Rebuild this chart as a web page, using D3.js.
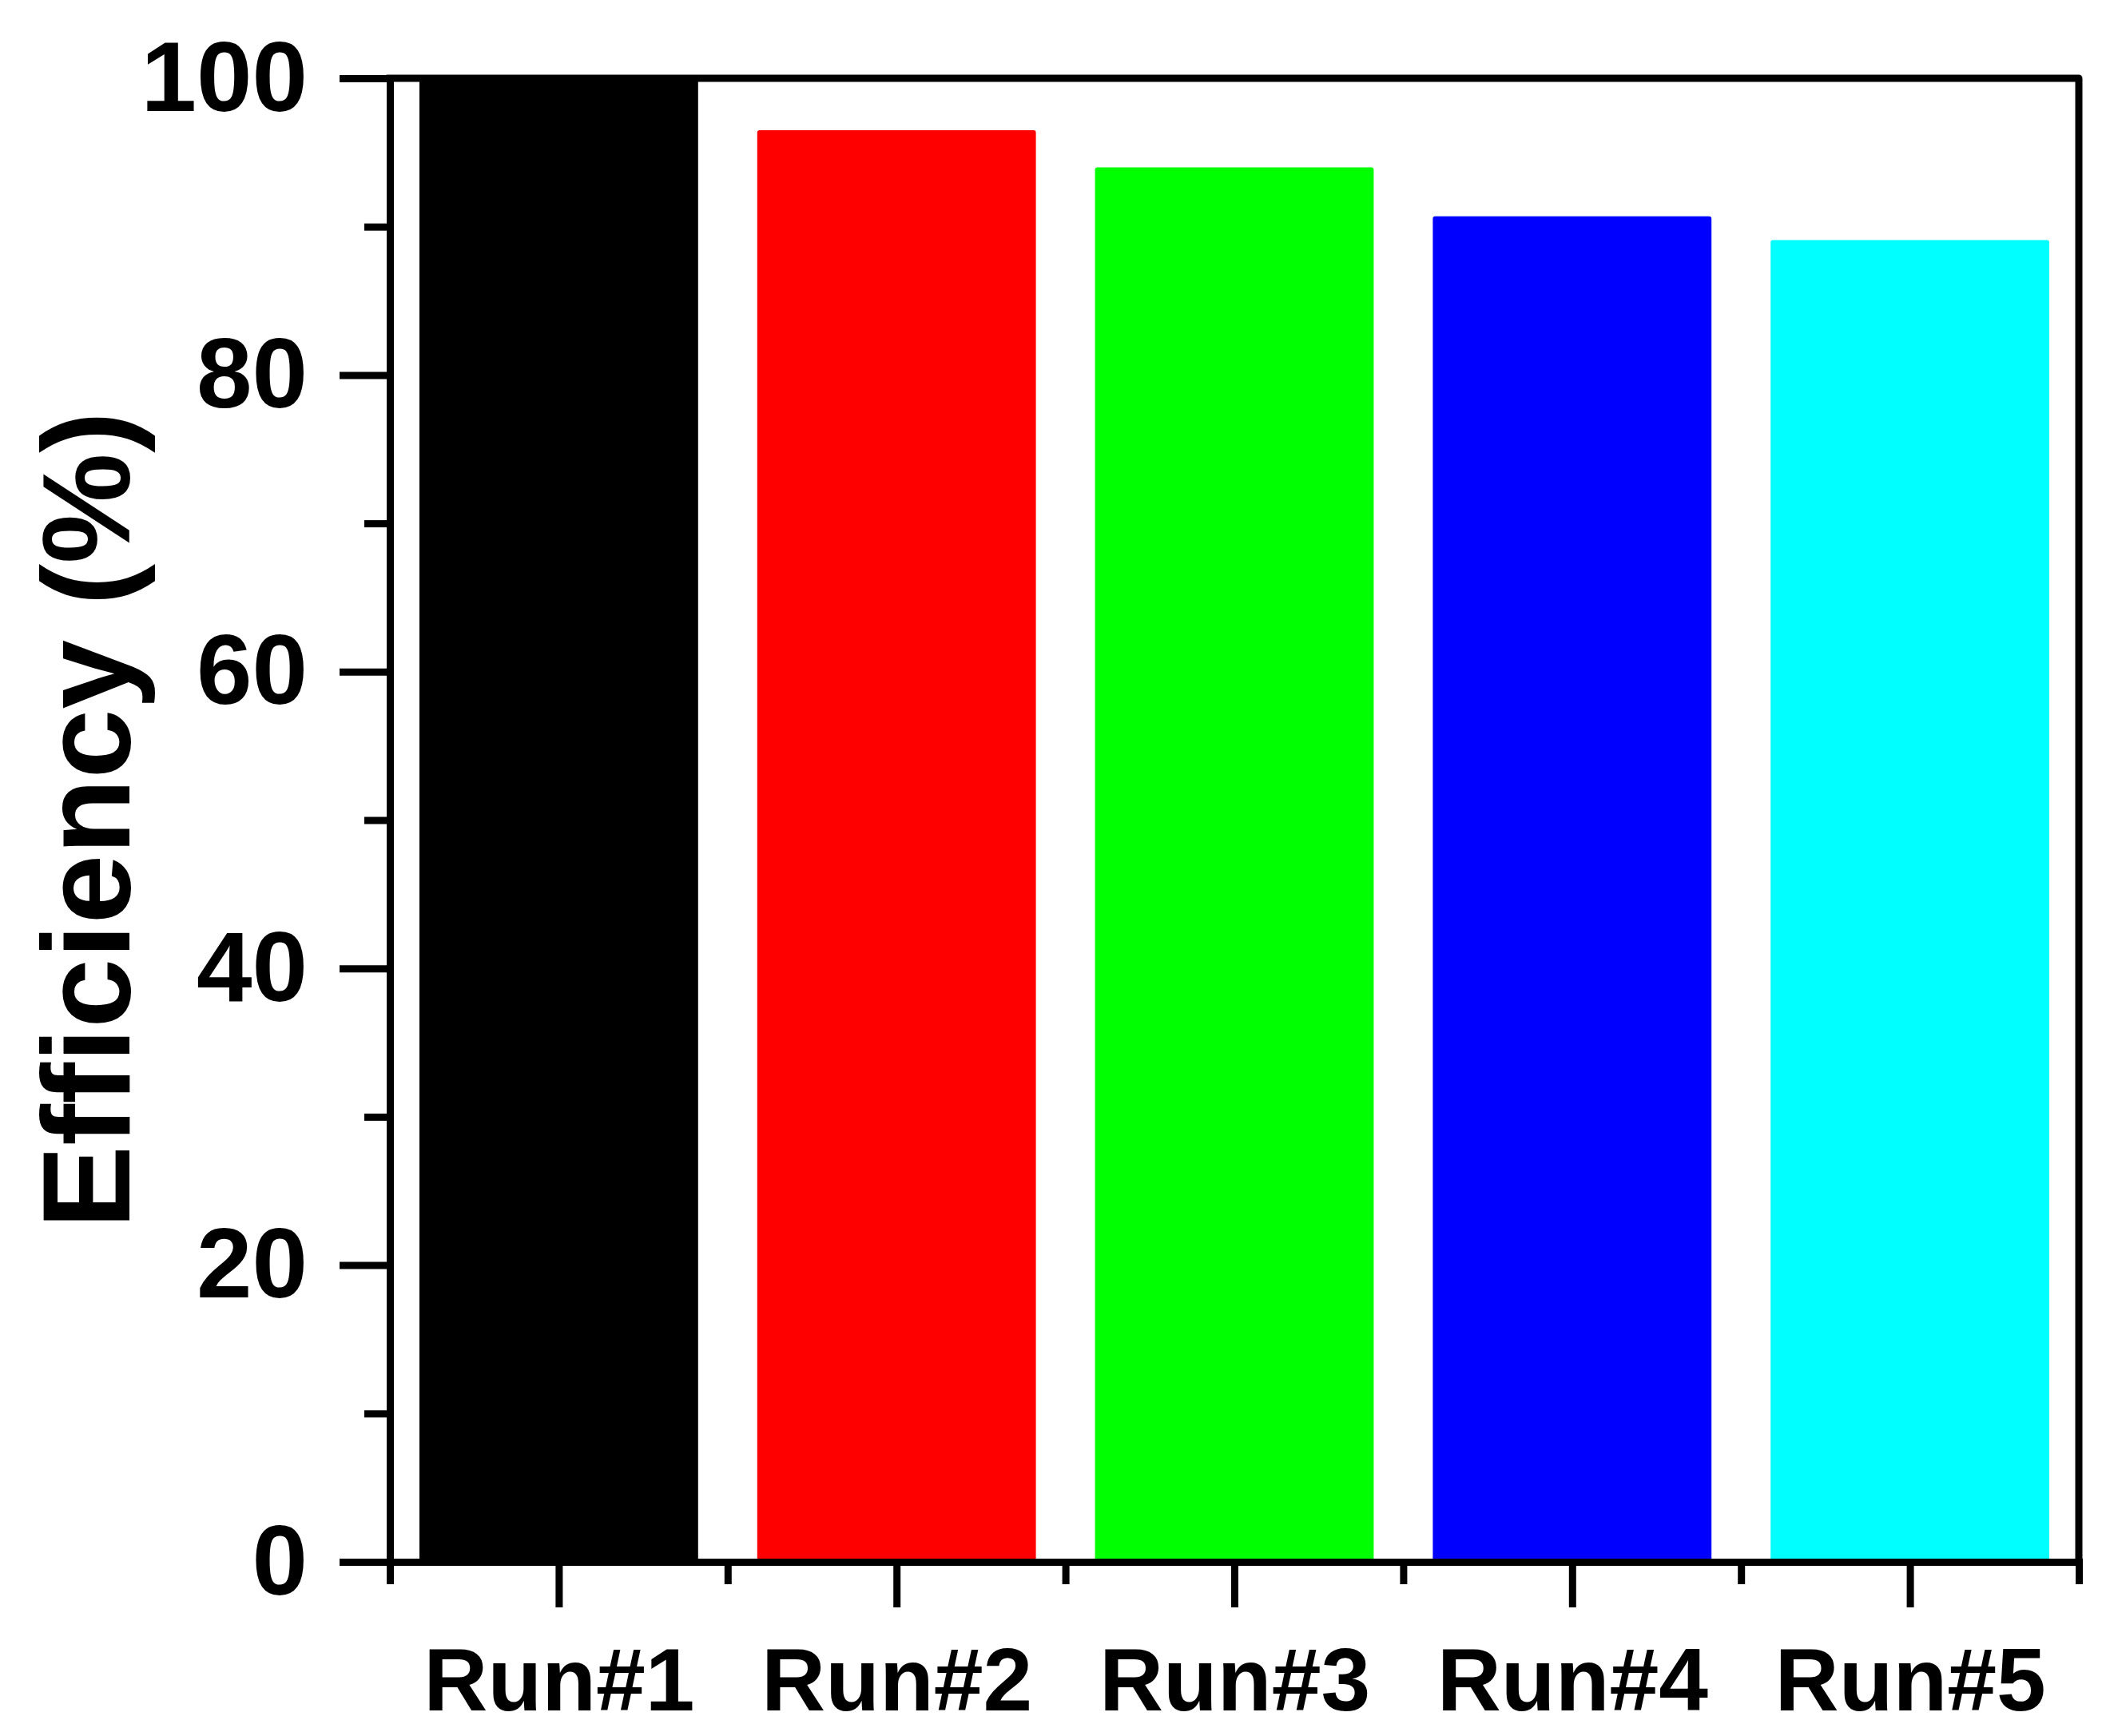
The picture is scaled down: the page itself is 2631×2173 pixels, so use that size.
<!DOCTYPE html>
<html>
<head>
<meta charset="utf-8">
<script src="https://cdn.jsdelivr.net/npm/d3@7"></script>
<style>
  html, body { margin: 0; padding: 0; background: #fff; }
  svg { display: block; }
  text { font-family: "Liberation Sans", Arial, sans-serif; font-weight: bold; fill: #000; }
</style>
</head>
<body>
<script>
const categories = ["Run#1", "Run#2", "Run#3", "Run#4", "Run#5"];
const efficiency = [100, 96.5, 94.0, 90.7, 89.1];
const barColors = ["#000000", "#ff0000", "#00ff00", "#0000ff", "#00ffff"];
const yMajorTicks = [0, 20, 40, 60, 80, 100];
const yMinorTicks = [10, 30, 50, 70, 90];
const yTitle = "Efficiency (%)";

(function () {
const W = 2631, H = 2173;
const svg = d3.select("body").append("svg").attr("width", W).attr("height", H);

const mLeft = 488, mRight = 2602, mTop = 98, mBottom = 1955;
const x = d3.scaleLinear().domain([0.5, categories.length + 0.5]).range([mLeft, mRight]);
const y = d3.scaleLinear().domain([0, 100]).range([mBottom, mTop]);
const barW = 0.825;
const lw = 9;

// bars
svg.append("g").selectAll("rect").data(efficiency).join("rect")
  .attr("x", (d, i) => x(i + 1 - barW / 2))
  .attr("width", (d, i) => x(i + 1 + barW / 2) - x(i + 1 - barW / 2))
  .attr("y", d => y(d))
  .attr("height", d => y(0) - y(d))
  .attr("rx", 3)
  .attr("fill", (d, i) => barColors[i]);

function styleAxis(g) {
  g.selectAll("path, line").attr("stroke", "#000").attr("stroke-width", lw);
  g.selectAll("path").attr("stroke-linecap", "square");
}

// y axis major
const yAxis = svg.append("g").attr("transform", `translate(${mLeft},0)`)
  .call(d3.axisLeft(y).tickValues(yMajorTicks).tickFormat(d3.format("d"))
    .tickSize(63).tickSizeOuter(0).tickPadding(40));
yAxis.selectAll("text").attr("font-size", 125).attr("font-family", null);
styleAxis(yAxis);
// y axis minor
const yMinor = svg.append("g").attr("transform", `translate(${mLeft},0)`)
  .call(d3.axisLeft(y).tickValues(yMinorTicks).tickFormat("").tickSize(32).tickSizeOuter(0));
styleAxis(yMinor);
yMinor.select("path").remove();

// x axis major
const xAxis = svg.append("g").attr("transform", `translate(0,${mBottom})`)
  .call(d3.axisBottom(x).tickValues(categories.map((c, i) => i + 1))
    .tickFormat((d, i) => categories[i]).tickSize(57).tickSizeOuter(0).tickPadding(50));
xAxis.selectAll("text").attr("font-size", 111).attr("font-family", null);
styleAxis(xAxis);
// x axis minor
const xMinor = svg.append("g").attr("transform", `translate(0,${mBottom})`)
  .call(d3.axisBottom(x).tickValues(d3.range(0, categories.length + 1).map(v => v + 0.5))
    .tickFormat("").tickSize(28).tickSizeOuter(0));
styleAxis(xMinor);
xMinor.select("path").remove();

// top and right frame
svg.append("path")
  .attr("d", `M${x(0.5)},${y(100)}L${x(categories.length + 0.5)},${y(100)}L${x(categories.length + 0.5)},${y(0)}`)
  .attr("fill", "none").attr("stroke", "#000").attr("stroke-width", lw)
  .attr("stroke-linejoin", "round").attr("stroke-linecap", "square");

// y title
svg.append("text")
  .attr("transform", `translate(162,${(mTop + mBottom) / 2}) rotate(-90)`)
  .attr("text-anchor", "middle")
  .attr("font-size", 156)
  .text(yTitle);
})();
</script>
</body>
</html>
